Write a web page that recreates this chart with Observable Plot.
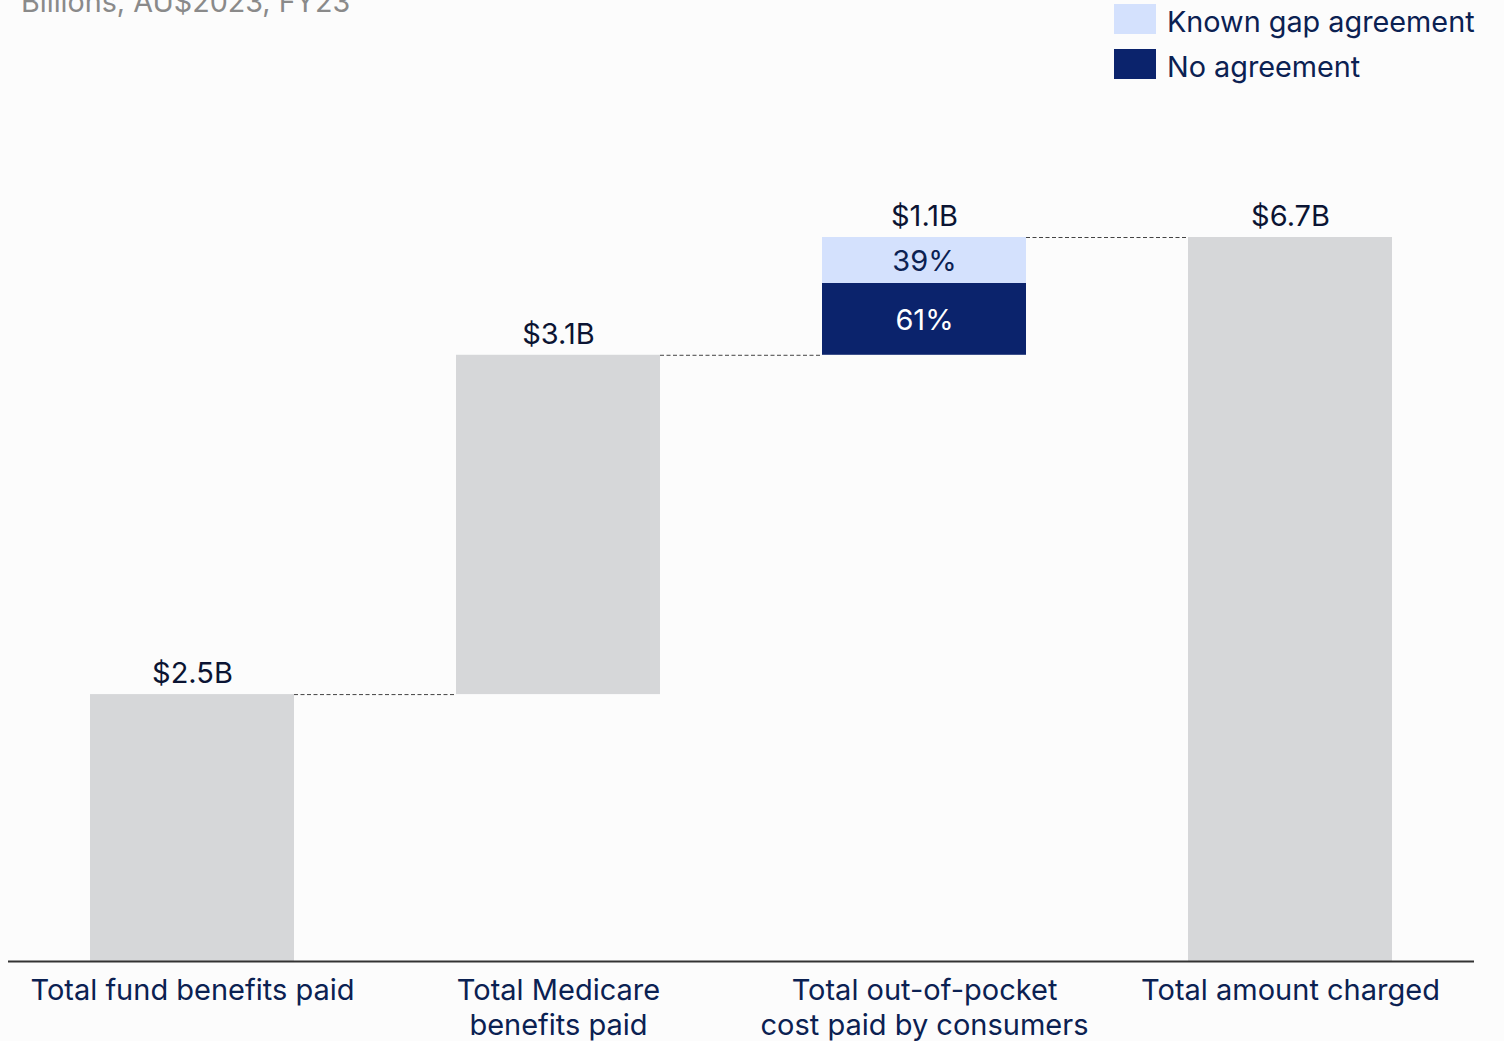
<!DOCTYPE html>
<html>
<head>
<meta charset="utf-8">
<script src="https://cdn.jsdelivr.net/npm/d3@7"></script>
<script src="https://cdn.jsdelivr.net/npm/@observablehq/plot@0.6"></script>
<style>
  html, body { margin: 0; padding: 0; background: #fcfcfc; overflow: hidden; }
  body { width: 1504px; height: 1041px; font-family: Inter, "Noto Sans", sans-serif; }
  #header { position: relative; height: 90px; width: 1504px; }
  #subtitle { position: absolute; left: 21px; top: -16px; font-size: 28.7px; line-height: 36px; color: #8a8a8a; white-space: nowrap; }
  #legend { position: absolute; left: 1114px; top: 4px; }
  .item { display: flex; align-items: center; height: 30px; margin-bottom: 15px; }
  .sw { width: 42px; height: 30px; margin-right: 11px; }
  .lab { font-size: 28.8px; color: #0b2152; white-space: nowrap; position: relative; top: 2px; }
</style>
</head>
<body>
<div id="header">
  <div id="subtitle">Billions, AU$2023, FY23</div>
  <div id="legend"></div>
</div>
<div id="chart"></div>
<script>
const categories = ["Total fund benefits paid", "Total Medicare\nbenefits paid", "Total out-of-pocket\ncost paid by consumers", "Total amount charged"];
const values = [2.47, 3.14, 1.09, 6.70];
const isTotal = [false, false, false, true];
const valueLabels = ["$2.5B", "$3.1B", "$1.1B", "$6.7B"];
const splitCategory = 2;
const splitNames = ["No agreement", "Known gap agreement"];
const splitShares = [0.61, 0.39];
const splitLabels = ["61%", "39%"];
const legendOrder = ["Known gap agreement", "No agreement"];
const colors = {"Known gap agreement": "#d4e1fd", "No agreement": "#0b236c"};

// waterfall layout from the values
let run = 0;
const rows = categories.map((c, i) => {
  let y1, y2;
  if (isTotal[i]) { y1 = 0; y2 = values[i]; run = values[i]; }
  else { y1 = run; y2 = run + values[i]; run = y2; }
  return {cat: c, y1, y2, label: valueLabels[i]};
});
const grayRows = rows.filter((r, i) => i !== splitCategory);
const sp = rows[splitCategory];
let acc = sp.y1;
const segRows = splitNames.map((n, j) => {
  const h = (sp.y2 - sp.y1) * splitShares[j];
  const r = {cat: sp.cat, name: n, y1: acc, y2: acc + h, mid: acc + h / 2, label: splitLabels[j]};
  acc += h;
  return r;
});
const connRows = rows.slice(0, -1).map((r, i) => ({a: r.cat, b: rows[i + 1].cat, y: r.y2}));

const bw = 204;
const chart = Plot.plot({
  width: 1504,
  height: 951,
  marginLeft: 8,
  marginRight: 30,
  marginTop: 147,
  marginBottom: 80,
  style: {background: "#fcfcfc", fontFamily: "Inter, 'Noto Sans', sans-serif"},
  x: {domain: categories, paddingInner: 0.4436, paddingOuter: 0.221, axis: null},
  y: {domain: [0, 6.7], axis: null},
  color: {domain: splitNames, range: splitNames.map(n => colors[n])},
  marks: [
    Plot.ruleY(connRows, {x1: "a", x2: "b", y: "y", insetLeft: bw, insetRight: bw, stroke: "#444", strokeWidth: 1, strokeDasharray: "4,2.5"}),
    Plot.barY(grayRows, {x: "cat", y1: "y1", y2: "y2", fill: "#d6d7d9"}),
    Plot.barY(segRows, {x: "cat", y1: "y1", y2: "y2", fill: "name"}),
    Plot.text(segRows, {x: "cat", y: "mid", text: "label", dy: 1, fill: d => d.name === "No agreement" ? "#ffffff" : "#0b2152", fontSize: 29}),
    Plot.text(rows, {x: "cat", y: "y2", text: "label", dy: -21, fill: "#0b1433", fontSize: 29}),
    Plot.ruleY([0], {stroke: "#333", strokeWidth: 2}),
    Plot.axisX({tickSize: 0, tickPadding: 14, fontSize: 29, fill: "#0b2152", label: null, lineHeight: 1.207, lineAnchor: "top"})
  ]
});
document.getElementById("chart").appendChild(chart);

const leg = document.getElementById("legend");
legendOrder.forEach(n => {
  const it = document.createElement("div");
  it.className = "item";
  it.innerHTML = `<div class="sw" style="background:${colors[n]}"></div><div class="lab">${n}</div>`;
  leg.appendChild(it);
});
</script>
</body>
</html>
